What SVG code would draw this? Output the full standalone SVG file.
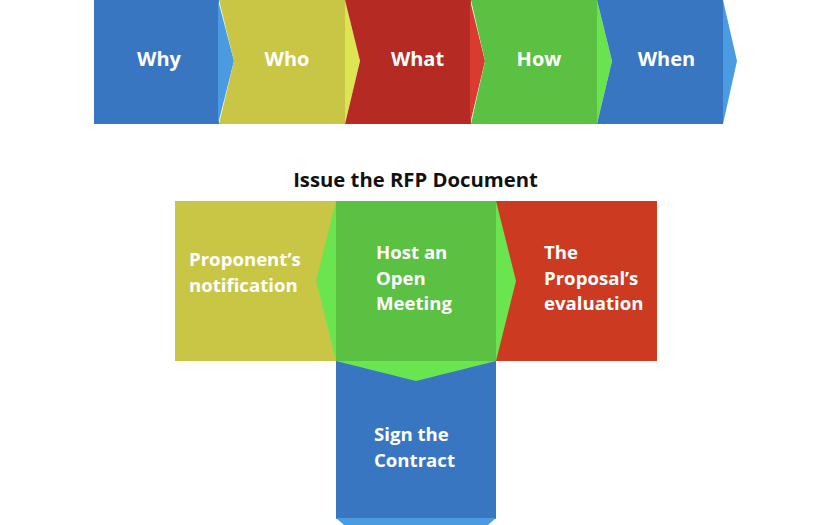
<svg xmlns="http://www.w3.org/2000/svg" width="828" height="525" viewBox="0 0 828 525">
<style>
.lbl{font-family:"Open Sans","Liberation Sans",sans-serif;font-weight:bold;fill:#ffffff}
.top{font-size:20px;text-anchor:middle}
.mid{font-size:18.6px}
.title{font-family:"Open Sans","Liberation Sans",sans-serif;font-weight:bold;font-size:20.3px;fill:#111111;text-anchor:middle}
</style>
<rect width="828" height="525" fill="#ffffff"/>
<g id="why">
<rect x="94" y="0" width="125" height="124" fill="#3876c2"/>
<polygon points="218,0 234,61 218,124" fill="#4a9be2"/>
<text class="lbl top" x="159" y="66">Why</text>
</g>
<g id="who">
<polygon points="219,0 345,0 345,124 219,124 234,61" fill="#c9c545"/>
<polygon points="345,0 360,61 345,124" fill="#dde553"/>
<text class="lbl top" x="287" y="66">Who</text>
</g>
<g id="what">
<polygon points="345,0 471,0 471,124 345,124 360,61" fill="#b52b24"/>
<polygon points="470,0 485,61 470,124" fill="#d93b2f"/>
<text class="lbl top" x="417.5" y="66">What</text>
</g>
<g id="how">
<polygon points="471,0 597,0 597,124 471,124 485,61" fill="#5ac143"/>
<polygon points="597,0 612,61 597,124" fill="#6be34f"/>
<text class="lbl top" x="539" y="66">How</text>
</g>
<g id="when">
<polygon points="597,0 723,0 723,124 597,124 612,61" fill="#3876c2"/>
<polygon points="723,0 737,61 723,124" fill="#4a9be2"/>
<text class="lbl top" x="666.5" y="66">When</text>
</g>
<text class="title" x="415.5" y="187">Issue the RFP Document</text>
<g id="proponent">
<rect x="175" y="201" width="161" height="160" fill="#c9c646"/>
<text class="lbl mid" x="189" y="266">Proponent’s</text>
<text class="lbl mid" x="189" y="292">notification</text>
</g>
<g id="evaluation">
<rect x="496" y="201" width="161" height="160" fill="#cd3a22"/>
<text class="lbl mid" x="544" y="259">The</text>
<text class="lbl mid" x="544" y="285">Proposal’s</text>
<text class="lbl mid" x="544" y="310">evaluation</text>
</g>
<g id="contract">
<rect x="336" y="361" width="160" height="158" fill="#3876c2"/>
<polygon points="336,518 496,518 488,525 344,525" fill="#4a9be2"/>
<text class="lbl mid" x="374" y="441">Sign the</text>
<text class="lbl mid" x="374" y="467">Contract</text>
</g>
<g id="meeting">
<rect x="336" y="201" width="160" height="160" fill="#5ac143"/>
<polygon points="336,201 316,281 336,361" fill="#6be54f"/>
<polygon points="496,201 516,281 496,361" fill="#6be54f"/>
<polygon points="336,361 496,361 416,381" fill="#6be54f"/>
<text class="lbl mid" x="376" y="259">Host an</text>
<text class="lbl mid" x="376" y="285">Open</text>
<text class="lbl mid" x="376" y="310">Meeting</text>
</g>
<g id="connectors"></g>
</svg>
